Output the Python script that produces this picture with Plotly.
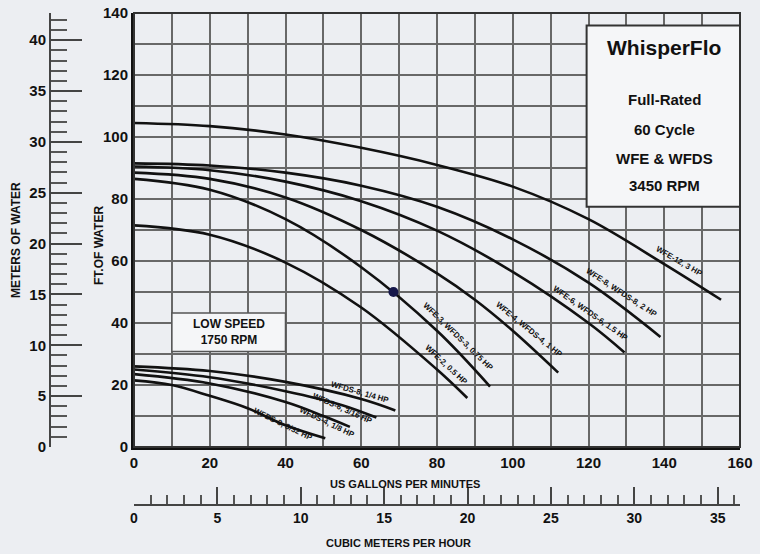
import plotly.graph_objects as go

# ---------------- data ----------------
# 3450 RPM curves: flow in US gpm, head in ft
wfe12_gpm = [0, 20, 40, 60, 80, 100, 120, 140, 155]
wfe12_ft = [104.5, 103.5, 100.8, 96.5, 91, 84, 73.5, 59, 47.5]

wfe8_gpm = [0, 20, 40, 60, 80, 100, 120, 139]
wfe8_ft = [91.5, 90.8, 88.5, 84.3, 77.5, 67, 53, 35.5]

wfe6_gpm = [0, 20, 40, 60, 80, 100, 120, 129.5]
wfe6_ft = [90.5, 89.3, 85.6, 79.3, 69.8, 56.5, 40, 30.5]

wfe4_gpm = [0, 20, 40, 60, 80, 90, 100, 112]
wfe4_ft = [88.5, 86.5, 80.5, 70, 56, 47.5, 37.5, 24]

wfe3_gpm = [0, 20, 40, 60, 80, 94]
wfe3_ft = [86.5, 83, 73.5, 58, 37.5, 19.5]

wfe2_gpm = [0, 20, 40, 60, 80, 88]
wfe2_ft = [71.5, 68.5, 59.5, 45, 25, 15.8]

# 1750 RPM (low speed) curves
wfds8_low_gpm = [0, 20, 40, 60, 69]
wfds8_low_ft = [26, 24.5, 21, 15.5, 11.8]

wfds6_low_gpm = [0, 20, 40, 55, 64]
wfds6_low_ft = [25, 22.5, 18, 13.5, 9.5]

wfds4_low_gpm = [0, 20, 40, 50, 57]
wfds4_low_ft = [23.5, 20.5, 14.5, 10, 6.5]

wfds3_low_gpm = [0, 10, 20, 30, 40, 50.5]
wfds3_low_ft = [21.5, 20, 16.5, 12.5, 7, 2.8]

duty_point_gpm = [68.5]
duty_point_ft = [50]

curve_names = ["WFE-12, 3 HP", "WFE-8, WFDS-8, 2 HP", "WFE-6, WFDS-6, 1.5 HP",
               "WFE-4, WFDS-4, 1 HP", "WFE-3, WFDS-3, 0.75 HP", "WFE-2, 0.5 HP",
               "WFDS-8, 1/4 HP", "WFDS-6, 3/16 HP", "WFDS-4, 1/8 HP", "WFDS-3, 3/32 HP"]
# label anchor (gpm, ft) and angle
label_gpm = [144, 128.6, 120.6, 104.3, 85.5, 82.3, 59.8, 55, 51, 39.4]
label_ft = [59.7, 49.7, 43.2, 38, 35.5, 26.5, 17.6, 12.3, 7.9, 7.4]
label_angle = [30, 33, 35, 39, 44, 43, 16, 24, 26, 26]

title_lines = ["WhisperFlo", "Full-Rated", "60 Cycle", "WFE & WFDS", "3450 RPM"]
title_line_ft = [129, 112, 102.3, 93.2, 84.2]

FT_PER_M = 3.28084
M3H_PER_GPM = 0.2271247
GPM_MAX = 160
FT_MAX = 140

# ---------------- figure ----------------
FONT = "Liberation Sans Narrow, Arial Narrow, Liberation Sans, Arial, sans-serif"
BG = "#eceef2"
GRID = "#686868"
INK = "#111111"

curves = [
    (wfe12_gpm, wfe12_ft), (wfe8_gpm, wfe8_ft), (wfe6_gpm, wfe6_ft),
    (wfe4_gpm, wfe4_ft), (wfe3_gpm, wfe3_ft), (wfe2_gpm, wfe2_ft),
    (wfds8_low_gpm, wfds8_low_ft), (wfds6_low_gpm, wfds6_low_ft),
    (wfds4_low_gpm, wfds4_low_ft), (wfds3_low_gpm, wfds3_low_ft),
]

fig = go.Figure()
for (gx, gy), name in zip(curves, curve_names):
    fig.add_trace(go.Scatter(x=gx, y=gy, mode="lines", name=name,
                             line=dict(color=INK, width=2.6, shape="spline", smoothing=1.0),
                             hoverinfo="skip", showlegend=False))

fig.add_trace(go.Scatter(x=duty_point_gpm, y=duty_point_ft, mode="markers",
                         marker=dict(color="#15164a", size=10), showlegend=False,
                         hoverinfo="skip"))

# helper invisible traces so secondary rulers render
fig.add_trace(go.Scatter(x=[0], y=[0], xaxis="x2", yaxis="y", mode="markers",
                         marker=dict(opacity=0), showlegend=False, hoverinfo="skip"))
fig.add_trace(go.Scatter(x=[0], y=[0], xaxis="x", yaxis="y2", mode="markers",
                         marker=dict(opacity=0), showlegend=False, hoverinfo="skip"))

W, H = 760, 554
x_dom = [134 / W, 740 / W]
y_dom = [1 - 447 / H, 1 - 13 / H]

tickfont = dict(family=FONT, size=15, color=INK, weight="bold")

fig.update_layout(
    width=W, height=H, autosize=False,
    margin=dict(l=0, r=0, t=0, b=0, pad=0, autoexpand=False),
    paper_bgcolor=BG, plot_bgcolor=BG, showlegend=False,
    font=dict(family=FONT, color=INK),
    xaxis=dict(domain=x_dom, range=[0, GPM_MAX], dtick=20, tick0=0,
               showgrid=True, gridcolor=GRID, gridwidth=2,
               minor=dict(dtick=10, showgrid=True, gridcolor=GRID, gridwidth=2),
               showline=True, linecolor=INK, linewidth=3, zeroline=False,
               ticks="", tickfont=tickfont, anchor="y", fixedrange=True,
               automargin=False),
    yaxis=dict(domain=y_dom, range=[0, FT_MAX], dtick=20, tick0=0,
               showgrid=True, gridcolor=GRID, gridwidth=2,
               minor=dict(dtick=10, showgrid=True, gridcolor=GRID, gridwidth=2),
               showline=True, linecolor=INK, linewidth=3, zeroline=False,
               ticks="", tickfont=tickfont, anchor="x", fixedrange=True,
               automargin=False),
    yaxis2=dict(overlaying="y", anchor="free", position=50 / W, side="left",
                range=[0, FT_MAX / FT_PER_M], dtick=5, tick0=0,
                ticks="inside", ticklen=31, tickwidth=2, tickcolor="#444",
                minor=dict(dtick=1, ticks="inside", ticklen=16, tickwidth=2, tickcolor="#555"),
                showline=True, linecolor="#444", linewidth=2, showgrid=False,
                zeroline=False, tickfont=tickfont, fixedrange=True, automargin=False),
    xaxis2=dict(overlaying="x", anchor="free", position=1 - 505 / H, side="bottom",
                range=[0, GPM_MAX * M3H_PER_GPM], dtick=5, tick0=0,
                ticks="inside", ticklen=17, tickwidth=2, tickcolor="#444",
                minor=dict(dtick=1, ticks="inside", ticklen=9, tickwidth=2, tickcolor="#555"),
                showline=True, linecolor="#444", linewidth=2, showgrid=False,
                zeroline=False, tickfont=dict(family=FONT, size=14, color=INK, weight="bold"),
                fixedrange=True, automargin=False),
)

shapes = [
    # plot frame
    dict(type="rect", xref="x domain", yref="y domain", x0=0, x1=1, y0=0, y1=1,
         line=dict(color="#333", width=2), layer="above"),
    # title box
    dict(type="rect", xref="x", yref="y", x0=119.5, x1=160, y0=77.5, y1=136,
         line=dict(color="#333", width=2), fillcolor="#f5f6f8", layer="above"),
    # low speed box
    dict(type="rect", xref="x", yref="y", x0=10, x1=40, y0=30.8, y1=43.2,
         line=dict(color="#555", width=1.5), fillcolor="#f5f6f8", layer="above"),
]
fig.update_layout(shapes=shapes)

ann = []
for i, t in enumerate(title_lines):
    ann.append(dict(x=140, y=title_line_ft[i], xref="x", yref="y", text=f"<b>{t}</b>",
                    showarrow=False, xanchor="center", yanchor="middle",
                    font=dict(family=FONT, size=21 if i == 0 else 15, color=INK)))
ann.append(dict(x=25, y=37, xref="x", yref="y", text="<b>LOW SPEED<br>1750 RPM</b>",
                showarrow=False, xanchor="center", yanchor="middle",
                font=dict(family=FONT, size=12, color=INK)))
for name, gx, gy, ang in zip(curve_names, label_gpm, label_ft, label_angle):
    ann.append(dict(x=gx, y=gy, xref="x", yref="y", text=f"<b>{name}</b>", showarrow=False,
                    xanchor="center", yanchor="middle",
                    textangle=ang, font=dict(family=FONT, size=8, color=INK)))
# axis titles
ann += [
    dict(x=99 / W, y=1 - 245 / H, xref="paper", yref="paper", text="<b>FT.OF WATER</b>",
         textangle=-90, showarrow=False, xanchor="center", yanchor="middle",
         font=dict(family=FONT, size=12, color=INK)),
    dict(x=16 / W, y=1 - 240 / H, xref="paper", yref="paper", text="<b>METERS OF WATER</b>",
         textangle=-90, showarrow=False, xanchor="center", yanchor="middle",
         font=dict(family=FONT, size=12, color=INK)),
    dict(x=405 / W, y=1 - 484 / H, xref="paper", yref="paper",
         text="<b>US GALLONS PER MINUTES</b>", showarrow=False,
         xanchor="center", yanchor="middle",
         font=dict(family=FONT, size=11, color=INK)),
    dict(x=398 / W, y=1 - 543 / H, xref="paper", yref="paper",
         text="<b>CUBIC METERS PER HOUR</b>", showarrow=False,
         xanchor="center", yanchor="middle",
         font=dict(family=FONT, size=11, color=INK)),
]
fig.update_layout(annotations=ann)

page_fix = ("document.body.style.margin='0';"
            "document.body.style.padding='0';"
            "document.body.style.overflow='hidden';"
            "document.body.style.background='" + BG + "';")
fig.write_html("out.html", post_script=page_fix,
               config={"displayModeBar": False, "staticPlot": True})
